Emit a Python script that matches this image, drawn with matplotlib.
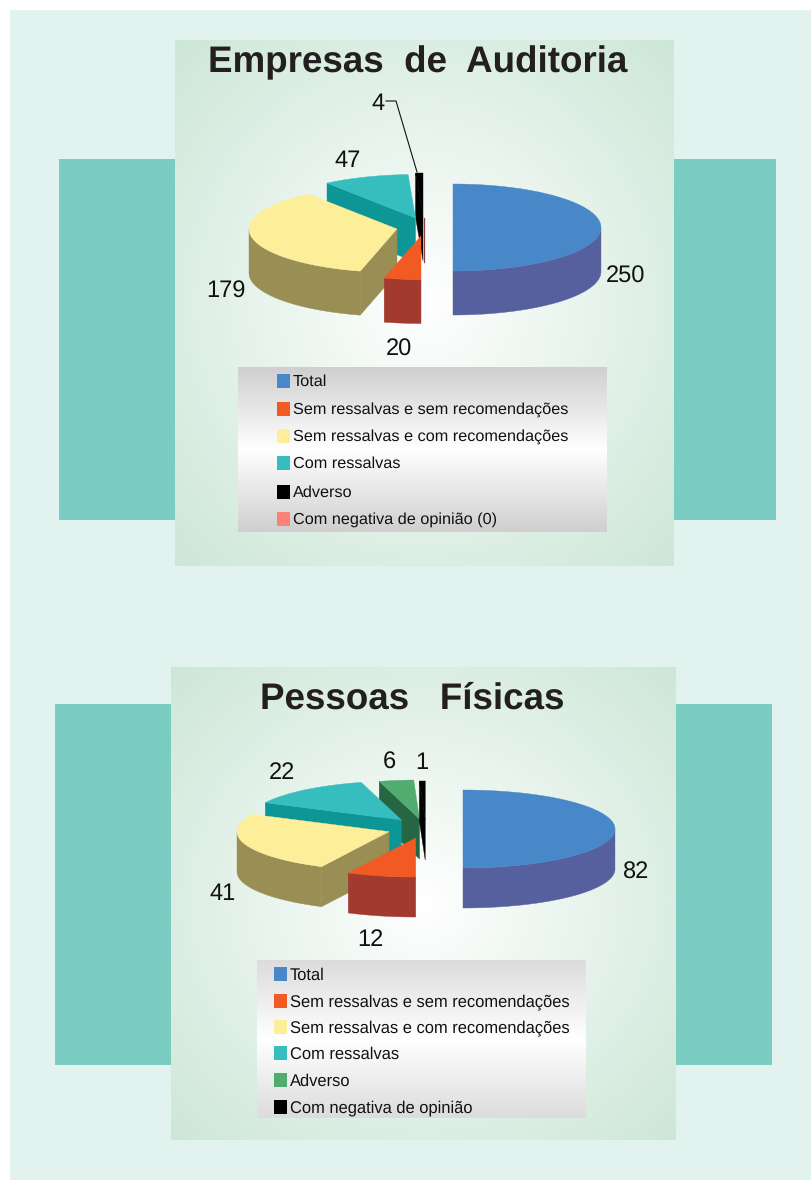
import numpy as np
import matplotlib
matplotlib.use('Agg')
from matplotlib import pyplot as plt
from matplotlib.colors import LinearSegmentedColormap
from matplotlib.patches import Polygon, Rectangle

plt.rcParams['font.family'] = ['Liberation Sans', 'DejaVu Sans']
plt.rcParams['text.hinting'] = 'no_hinting'

# data
titles = ['Empresas  de  Auditoria', 'Pessoas   Físicas']
categories = ['Total', 'Sem ressalvas e sem recomendações', 'Sem ressalvas e com recomendações',
              'Com ressalvas', 'Adverso', 'Com negativa de opinião']
auditoria = [250, 20, 179, 47, 4, 0]
fisicas = [82, 12, 41, 22, 6, 1]

# (top colour, wall colour), per pie in slice order
colors_a = [('#4887c8', '#56609e'), ('#f25a24', '#a23a30'), ('#fdee9a', '#998f54'),
            ('#36bdbd', '#0c9696'), ('#000000', '#000000'), ('#f98377', '#8e3b3b')]
colors_f = [('#4887c8', '#56609e'), ('#f25a24', '#a23a30'), ('#fdee9a', '#998f54'),
            ('#36bdbd', '#0c9696'), ('#52ab6f', '#256643'), ('#000000', '#000000')]

# layout, in pixels of the 812x1180 page
apex_a = [(453, 227.5), (421, 236), (397, 229), (415.5, 218), (423, 216.5), (424.5, 218)]
apex_f = [(463, 829), (415.7, 838), (389, 831.7), (401.5, 820), (419.5, 819), (425.2, 820)]
label_a = [(626, 277), (399, 350), (226, 292), (348, 161), (378, 104), None]
label_f = [(636, 873), (370, 940), (223, 894), (282, 773), (389, 763), (422, 763)]
rows_a = [381, 409, 436, 463, 492, 519]
rows_f = [974, 1001, 1027, 1053, 1080, 1107]


def gradient(ax, box, stops, radial=False):
    x0, y0, x1, y1 = box
    cmap = LinearSegmentedColormap.from_list('g', stops)
    yy, xx = np.mgrid[-1:1:300j, -1:1:300j]
    if radial:
        z = np.sqrt((xx**2 + yy**2) / 2.0)
    else:
        z = np.abs(yy)
    ax.imshow(z, extent=(x0, x1, y1, y0), cmap=cmap, vmin=0, vmax=1, aspect='auto',
              interpolation='bilinear', zorder=2)


def slice_3d(ax, apex, start, end, rx, ry, depth, top, wall, z):
    cx, cy = apex
    t = np.radians(np.linspace(start, end, 80))
    px = cx + rx * np.sin(t)
    py = cy - ry * np.cos(t)

    # outer wall, only the part of the rim that faces the viewer
    front = (np.degrees(t) >= 90) & (np.degrees(t) <= 270)
    if front.any():
        wx, wy = px[front], py[front]
        pts = np.column_stack([np.r_[wx, wx[::-1]], np.r_[wy, wy[::-1] + depth]])
        ax.add_patch(Polygon(pts, fc=wall, ec=wall, lw=0.3, zorder=z))

    # cut face at the start of the slice
    if start > 180:
        pts = [(px[0], py[0]), (cx, cy), (cx, cy + depth), (px[0], py[0] + depth)]
        ax.add_patch(Polygon(pts, fc=wall, ec=wall, lw=0.3, zorder=z))

    pts = np.column_stack([np.r_[cx, px], np.r_[cy, py]])
    ax.add_patch(Polygon(pts, fc=top, ec=top, lw=0.3, zorder=z + 0.1))


def draw_pie(ax, values, apexes, colors, labels, rx, ry, depth, order):
    angles = np.r_[0, np.cumsum(values)] * 360.0 / sum(values)
    for i in order:
        if values[i] == 0:
            # empty slice only leaves a thin line
            cx, cy = apexes[i]
            ax.plot([cx, cx], [cy, cy + depth], color=colors[i][1], lw=0.9, zorder=8)
            continue
        slice_3d(ax, apexes[i], angles[i], angles[i + 1], rx, ry, depth,
                 colors[i][0], colors[i][1], 5 + order.index(i) * 0.5)
    for v, pos in zip(values, labels):
        if pos is not None:
            ax.text(pos[0], pos[1], str(v), fontsize=17, ha='center', va='center',
                    color='#111111', zorder=12)


def draw_legend(ax, box, shade, rows, swatch_x, colors, names, size):
    gradient(ax, box, ['#ffffff', shade])
    for y, c, name in zip(rows, colors, names):
        ax.add_patch(Rectangle((swatch_x, y - 7), 13, 14, fc=c[0], ec='none', zorder=4))
        ax.text(swatch_x + 16, y + 1, name, fontsize=size, ha='left', va='center',
                color='#111111', zorder=4)


fig = plt.figure(figsize=(8.12, 11.8), dpi=100, facecolor='white')
ax = fig.add_axes([0, 0, 1, 1])

ax.add_patch(Rectangle((10, 10), 802, 1170, fc='#e2f2ee', ec='none', zorder=0))
ax.add_patch(Rectangle((59, 159), 717, 361, fc='#7bccc3', ec='none', zorder=1))
ax.add_patch(Rectangle((55, 704), 717, 361, fc='#7bccc3', ec='none', zorder=1))

# first chart
gradient(ax, (175, 40, 674, 566), ['#ffffff', '#cde7d7'], radial=True)
ax.text(418, 63, titles[0], fontsize=26.5, fontweight='bold', ha='center', va='center',
        color='#231f20', zorder=12)
draw_pie(ax, auditoria, apex_a, colors_a, label_a, 148, 43.5, 44, [0, 4, 3, 2, 1, 5])
ax.plot([386, 396, 417], [101, 101, 172], color='#111111', lw=0.8, zorder=12)
names_a = categories[:5] + [categories[5] + ' (0)']
draw_legend(ax, (238, 367, 607, 532), '#cfcfcf', rows_a, 277, colors_a, names_a, 11.7)

# second chart
gradient(ax, (171, 667, 676, 1140), ['#ffffff', '#cde7d7'], radial=True)
ax.text(412.5, 699, titles[1], fontsize=26.5, fontweight='bold', ha='center', va='center',
        color='#231f20', zorder=12)
draw_pie(ax, fisicas, apex_f, colors_f, label_f, 152, 39, 40, [0, 4, 5, 3, 2, 1])
draw_legend(ax, (257, 960, 586, 1118), '#dcdcdc', rows_f, 274, colors_f, categories, 11.9)

ax.set_xlim(0, 812)
ax.set_ylim(1180, 0)
ax.axis('off')

fig.savefig('out.png', dpi=100)
